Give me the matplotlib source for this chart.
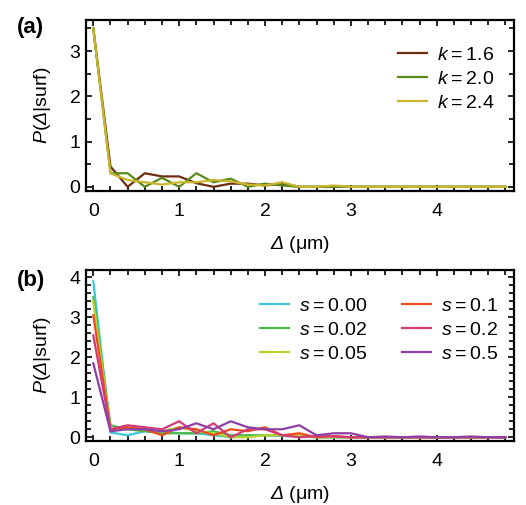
import numpy as np
import matplotlib
matplotlib.use("Agg")
import matplotlib.pyplot as plt
from matplotlib.ticker import MultipleLocator

plt.rcParams['font.family'] = ['Liberation Sans', 'DejaVu Sans']
plt.rcParams['mathtext.fontset'] = 'custom'
plt.rcParams['mathtext.rm'] = 'Liberation Sans'
plt.rcParams['mathtext.it'] = 'Liberation Sans:italic'
# sf slot used for an italic capital Delta (mathtext forces Greek capitals upright in 'it')
plt.rcParams['mathtext.sf'] = 'Liberation Sans:italic'

FS = 14
TS = '\u2009'  # thin space around "="

# distance bins (um)
delta = np.round(np.arange(0, 4.81, 0.2), 1)

# panel (a): different k
k_labels = ['1.6', '2.0', '2.4']
k_colors = ['#6e2c10', '#5a8a1c', '#c9b62c']
p_k16 = [3.5, 0.45, 0.0, 0.3, 0.23, 0.23, 0.08, 0.0, 0.07, 0.07, 0.03, 0.07, 0.0,
         0, 0, 0, 0, 0, 0, 0, 0, 0, 0, 0, 0]
p_k20 = [3.5, 0.3, 0.3, 0.0, 0.2, 0.0, 0.3, 0.1, 0.18, 0.0, 0.07, 0.03, 0.0,
         0, 0, 0, 0, 0, 0, 0, 0, 0, 0, 0, 0]
p_k24 = [3.5, 0.3, 0.15, 0.1, 0.05, 0.1, 0.1, 0.15, 0.12, 0.05, 0.03, 0.1, 0.0,
         0, 0.03, 0, 0, 0, 0, 0, 0, 0, 0, 0, 0]

# panel (b): different s
s_labels = ['0.00', '0.02', '0.05', '0.1', '0.2', '0.5']
s_colors = ['#3ec6d6', '#4cb94c', '#b9d22e', '#f04a1e', '#d23a78', '#8e3fa6']
p_s000 = [3.9, 0.12, 0.05, 0.15, 0.15, 0.1, 0.1, 0.05, 0.0, 0.05, 0.05, 0.03, 0.02,
          0, 0, 0, 0, 0, 0, 0, 0, 0, 0, 0, 0]
p_s002 = [3.5, 0.3, 0.2, 0.15, 0.1, 0.1, 0.1, 0.15, 0.05, 0.05, 0.05, 0.05, 0.03,
          0, 0, 0, 0, 0, 0, 0, 0, 0, 0, 0, 0]
p_s005 = [3.4, 0.2, 0.25, 0.2, 0.15, 0.25, 0.15, 0.1, 0.0, 0.0, 0.05, 0.05, 0.05,
          0, 0, 0, 0, 0, 0, 0, 0, 0, 0, 0, 0]
p_s010 = [3.05, 0.2, 0.25, 0.2, 0.05, 0.25, 0.2, 0.05, 0.2, 0.15, 0.25, 0.05, 0.1,
          0.0, 0.03, 0, 0, 0, 0, 0, 0, 0, 0, 0, 0]
p_s020 = [2.55, 0.2, 0.3, 0.25, 0.2, 0.4, 0.1, 0.35, 0.0, 0.2, 0.2, 0.05, 0.0,
          0.03, 0.02, 0, 0, 0, 0, 0, 0, 0, 0, 0, 0]
p_s050 = [1.85, 0.15, 0.2, 0.2, 0.15, 0.2, 0.35, 0.2, 0.4, 0.25, 0.2, 0.2, 0.3,
          0.05, 0.1, 0.1, 0.0, 0.02, 0.0, 0.02, 0.0, 0.0, 0.02, 0.0, 0.0]

fig = plt.figure(figsize=(5.26, 5.05), dpi=100)
ax_a = fig.add_axes([0.1635, 0.622, 0.8137, 0.3386])
ax_b = fig.add_axes([0.1635, 0.127, 0.8137, 0.338])


def style_axis(ax, ymax, yminor):
    ax.set_xlim(-0.085, 4.9)
    ax.set_ylim(-0.09, ymax)
    ax.xaxis.set_major_locator(MultipleLocator(1))
    ax.xaxis.set_minor_locator(MultipleLocator(0.2))
    ax.yaxis.set_major_locator(MultipleLocator(1))
    ax.yaxis.set_minor_locator(MultipleLocator(yminor))
    ax.tick_params(which='both', direction='in', top=True, right=True,
                   width=1.2, labelsize=FS)
    ax.tick_params(which='major', length=4.5)
    ax.tick_params(which='minor', length=3.5)
    ax.tick_params(axis='x', which='both', pad=9)
    ax.tick_params(axis='y', which='both', pad=4)
    for sp in ax.spines.values():
        sp.set_linewidth(1.6)
    ax.set_xlabel(r'$\mathsf{\Delta}$ (μm)', fontsize=FS, labelpad=10)
    ax.set_ylabel(r'$P$($\mathsf{\Delta}$|surf)', fontsize=FS, labelpad=12)


leg_kw = dict(frameon=False, fontsize=FS, handlelength=1.5, handletextpad=0.5,
              labelspacing=0.33, borderpad=0, borderaxespad=0, loc='upper left')

for vals, lab, col in zip([p_k16, p_k20, p_k24], k_labels, k_colors):
    ax_a.plot(delta, vals, color=col, lw=1.6, label=r'$k$' + TS + '=' + TS + lab)
style_axis(ax_a, 3.69, 0.5)
ax_a.legend(bbox_to_anchor=(0.729, 0.846), **leg_kw)

series_b = [p_s000, p_s002, p_s005, p_s010, p_s020, p_s050]
for vals, lab, col in zip(series_b, s_labels, s_colors):
    ax_b.plot(delta, vals, color=col, lw=1.6, label=r'$s$' + TS + '=' + TS + lab)
style_axis(ax_b, 4.18, 0.2)
ax_b.legend(bbox_to_anchor=(0.4065, 0.842), ncol=2, columnspacing=1.8, **leg_kw)

fig.text(0.032, 0.966, '(a)', fontsize=16, fontweight='bold', va='top')
fig.text(0.032, 0.466, '(b)', fontsize=16, fontweight='bold', va='top')

fig.savefig('out.png', dpi=100)
